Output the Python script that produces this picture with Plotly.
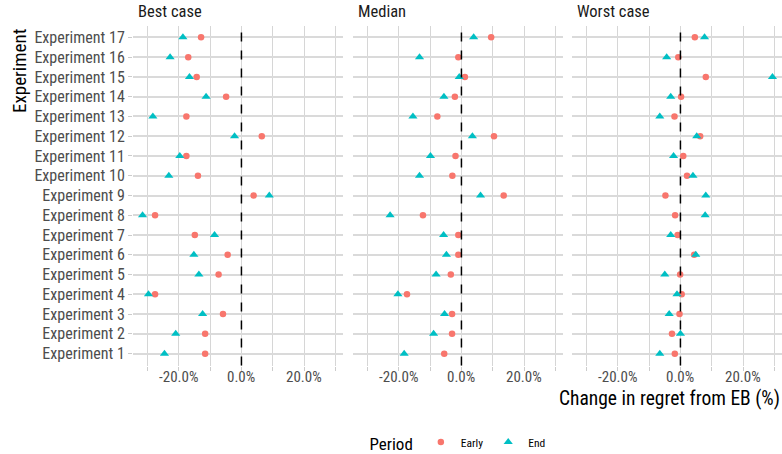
import plotly.graph_objects as go

experiments = [f"Experiment {i}" for i in range(1, 18)]
panels = ["Best case", "Median", "Worst case"]

# values in % (Experiment 1 .. Experiment 17)
best_early = [-11.6, -11.6, -5.9, -27.6, -7.3, -4.4, -14.9, -27.6, 3.9, -13.9, -17.6, 6.5, -17.6, -4.9, -14.3, -17.0, -12.9]
best_end = [-24.6, -21.0, -12.4, -29.7, -13.6, -15.2, -8.6, -31.6, 8.9, -23.2, -19.7, -2.2, -28.3, -11.3, -16.6, -22.8, -18.7]
median_early = [-5.5, -3.0, -3.0, -17.4, -3.4, -1.0, -1.0, -12.3, 13.5, -2.9, -1.9, 10.4, -7.7, -2.1, 1.1, -1.0, 9.5]
median_end = [-18.3, -8.9, -5.4, -20.3, -8.1, -4.8, -5.7, -22.8, 6.1, -13.4, -9.9, 3.5, -15.5, -5.6, -0.7, -13.4, 3.9]
worst_early = [-1.8, -2.7, -0.3, 0.4, -0.1, 4.4, -0.9, -1.7, -4.8, 2.1, 0.9, 6.3, -1.9, 0.2, 8.1, -0.7, 4.6]
worst_end = [-6.6, 0.0, -3.6, -1.1, -5.0, 4.9, -3.1, 7.9, 8.1, 4.0, -2.2, 5.2, -6.6, -3.1, 29.4, -4.4, 7.7]

x_tickvals = [-30, -20, -10, 0, 10, 20, 30]
x_ticktext = ["", "-20.0%", "", "0.0%", "", "20.0%", ""]

early_vals = [best_early, median_early, worst_early]
end_vals = [best_end, median_end, worst_end]

COL_EARLY = "#F8766D"
COL_END = "#00BFC4"
FONT = "Roboto Condensed, DejaVu Sans Condensed, Liberation Sans Narrow, Roboto, sans-serif"

W, H = 782, 454
fig = go.Figure()

panel_px = [(133, 343), (353, 563), (572, 782)]
y_dom = [1 - 365.5 / H, 1 - 25.5 / H]

for i, name in enumerate(panels):
    xa = "x" if i == 0 else f"x{i+1}"
    ya = "y" if i == 0 else f"y{i+1}"
    fig.add_trace(go.Scatter(
        x=early_vals[i], y=experiments, mode="markers", xaxis=xa, yaxis=ya,
        name="Early", legendgroup="Early", showlegend=(i == 0),
        marker=dict(symbol="circle", size=6.5, color=COL_EARLY, line=dict(width=0)),
    ))
    fig.add_trace(go.Scatter(
        x=end_vals[i], y=experiments, mode="markers", xaxis=xa, yaxis=ya,
        name="End", legendgroup="End", showlegend=(i == 0),
        marker=dict(symbol="triangle-up", size=8, color=COL_END, line=dict(width=0)),
    ))
    xkey = "xaxis" if i == 0 else f"xaxis{i+1}"
    ykey = "yaxis" if i == 0 else f"yaxis{i+1}"
    l, r = panel_px[i]
    fig.layout[xkey] = dict(
        domain=[l / W, r / W], range=[-34.65, 32.45], anchor=ya,
        tickmode="array", tickvals=x_tickvals, showticklabels=False,
        showgrid=True, gridcolor="#d6d6d6", gridwidth=1,
        zeroline=False, showline=False,
        ticks="outside", ticklen=4, tickcolor="#cccccc", tickwidth=1,
        automargin=False, fixedrange=True,
    )
    # tick labels placed just below the panel
    for v, t in zip(x_tickvals, x_ticktext):
        if t:
            fig.add_annotation(text=t, xref=xa, yref="paper", x=v, y=1 - 376.5 / H,
                               xanchor="center", yanchor="middle", showarrow=False,
                               font=dict(family=FONT, size=15, color="#4d4d4d"))
    fig.layout[ykey] = dict(
        domain=y_dom, anchor=xa, type="category",
        categoryorder="array", categoryarray=experiments,
        tickmode="array", tickvals=experiments,
        range=[-0.6, 16.6],
        showgrid=True, gridcolor="#dadada", gridwidth=1.6,
        zeroline=False, showline=False,
        showticklabels=(i == 0),
        ticks="outside" if i == 0 else "", ticklen=4, tickcolor="#cccccc", tickwidth=1,
        tickfont=dict(family=FONT, size=16, color="#4d4d4d"),
        automargin=False, fixedrange=True,
    )
    # dashed zero line
    fig.add_shape(type="line", xref=xa, yref=f"{ya} domain", x0=0, x1=0, y0=0, y1=1,
                  line=dict(color="black", width=1.5, dash="dash"))
    fig.add_annotation(text=name, xref="paper", yref="paper", x=(l + 3) / W, y=1 - 12 / H,
                       xanchor="left", yanchor="middle", showarrow=False,
                       font=dict(family=FONT, size=16.5, color="#1a1a1a"))

fig.add_annotation(text="Change in regret from EB (%)", xref="paper", yref="paper",
                   x=1.0, y=1 - 398 / H, xanchor="right", yanchor="middle", showarrow=False,
                   font=dict(family=FONT, size=19.5, color="black"))
fig.add_annotation(text="Experiment", xref="paper", yref="paper", textangle=-90,
                   x=19 / W, y=1 - 27 / H, xanchor="center", yanchor="top", showarrow=False,
                   font=dict(family=FONT, size=19, color="black"))

fig.update_layout(
    width=W, height=H, margin=dict(l=0, r=0, t=0, b=0, autoexpand=False),
    plot_bgcolor="white", paper_bgcolor="white",
    showlegend=True,
    legend=dict(orientation="h", x=459 / W, xanchor="center", y=1 - 444 / H, yanchor="middle",
                title=dict(text="Period", font=dict(family=FONT, size=17, color="black")),
                font=dict(family=FONT, size=11.5, color="black"),
                itemwidth=30, tracegroupgap=0, bgcolor="rgba(0,0,0,0)"),
)

fig.write_html("out.html", config={"displayModeBar": False},
               post_script="document.body.style.margin='0';document.body.style.overflow='hidden';")
